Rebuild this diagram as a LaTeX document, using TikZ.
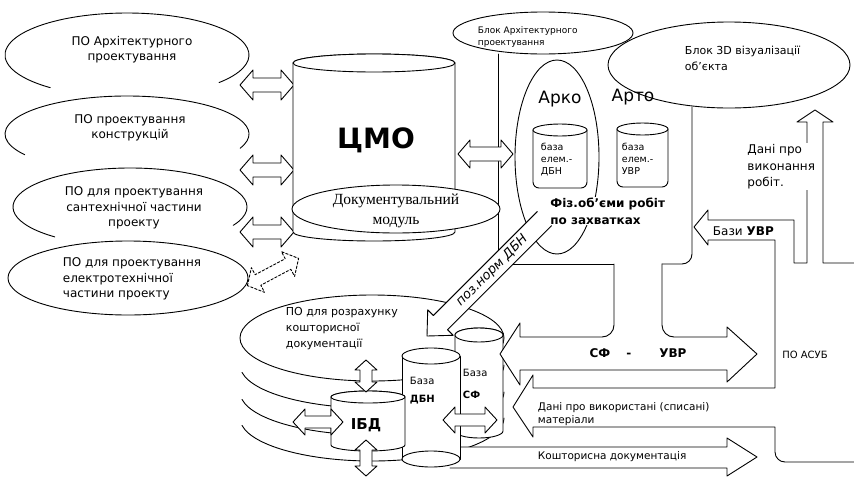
\documentclass[tikz,border=0pt]{standalone}
\usepackage{fontspec}
\setmainfont{DejaVu Sans}
\newfontfamily\serifru{Liberation Serif}
\newcommand{\hdbl}[7][]{\path[shp,#1] (#2,#4) -- ({#2+#7},{#4-#6}) -- ({#2+#7},{#4-#5}) -- ({#3-#7},{#4-#5}) -- ({#3-#7},{#4-#6}) -- (#3,#4) -- ({#3-#7},{#4+#6}) -- ({#3-#7},{#4+#5}) -- ({#2+#7},{#4+#5}) -- ({#2+#7},{#4+#6}) -- cycle;}
\newcommand{\vdbl}[7][]{\path[shp,#1] (#4,#2) -- ({#4-#6},{#2+#7}) -- ({#4-#5},{#2+#7}) -- ({#4-#5},{#3-#7}) -- ({#4-#6},{#3-#7}) -- (#4,#3) -- ({#4+#6},{#3-#7}) -- ({#4+#5},{#3-#7}) -- ({#4+#5},{#2+#7}) -- ({#4+#6},{#2+#7}) -- cycle;}
\newcommand{\cylbody}[5]{\path[shp] ({#1-#3},#2) -- ({#1-#3},#5) arc[start angle=180, end angle=360, x radius=#3pt, y radius=#4pt] -- ({#1+#3},#2) arc[start angle=0, end angle=180, x radius=#3pt, y radius=#4pt] -- cycle;
\path[shp] (#1,#2) ellipse[x radius=#3pt, y radius=#4pt];}
\begin{document}
\begin{tikzpicture}[x=1pt, y=-1pt, line width=0.9pt, line join=round, line cap=round,
  shp/.style={draw, fill=white},
  every node/.style={inner sep=0.5pt}]
\useasboundingbox[fill=white] (0,0) rectangle (854,477);

% background connector lines
\draw (498,54) -- (498,264) -- (614,264);
\draw (662,264) -- (682,264) arc[start angle=-90, end angle=0, radius=10pt] -- (692,107);

% left ellipses (open bottoms)
\draw (127,55) ++(-41:122pt and 42pt) arc[start angle=-41, end angle=231, x radius=122pt, y radius=42pt];
\draw (127,134) ++(-22:122pt and 38pt) arc[start angle=-22, end angle=213, x radius=122pt, y radius=38pt];
\draw (130,207) ++(-28:117pt and 39pt) arc[start angle=-28, end angle=230, x radius=117pt, y radius=39pt];
\draw (128,278) ellipse[x radius=120pt, y radius=37pt];

\node[font=\fontsize{12}{15}\selectfont, align=center] (t1) at (132,50) {ПО Архітектурного\\проектування};
\node[font=\fontsize{12}{15}\selectfont, align=center] (t2) at (130,128) {ПО проектування\\конструкцій};
\node[font=\fontsize{12}{15.5}\selectfont, align=center] (t3) at (134,208) {ПО для проектування\\сантехнічної частини\\проекту};
\node[font=\fontsize{12}{15.5}\selectfont, align=left, anchor=west] (t4) at (62,279) {ПО для проектування\\електротехнічної\\частини проекту};

% left double arrows
\hdbl{240}{294}{85}{7}{15}{13}
\hdbl{240}{294}{170}{7}{15}{13}
\hdbl{240}{294}{232}{7}{15}{13}
\begin{scope}[shift={(273,272)}, rotate=28]
\hdbl[dash pattern=on 2.5pt off 1.8pt]{-29}{29}{0}{6}{14}{12}
\end{scope}

% CMO cylinder
\cylbody{374}{63}{81}{9}{232}
\node[font=\bfseries\fontsize{28}{30}\selectfont] (cmo) at (376,140) {ЦМО};
\path[shp] (396,209) ellipse[x radius=104pt, y radius=24pt];
\node[font=\serifru\fontsize{15.5}{20}\selectfont, align=center] (dok) at (396,211) {Документувальний\\модуль};

% arrow CMO <-> Arko
\hdbl{458}{513}{154}{7}{14}{12}

% top blocks
\draw (543,33) ellipse[x radius=90pt, y radius=21pt];
\draw (729,65) ellipse[x radius=121pt, y radius=43pt];
\node[font=\fontsize{9}{12}\selectfont, align=left, anchor=west] (barh) at (477,37) {Блок Архітектурного\\проектування};
\node[font=\fontsize{11}{16}\selectfont, align=left, anchor=west] (b3d) at (684,58) {Блок 3D візуалізації\\об'єкта};

% Arko ellipse, Arko/Arto
\draw (557,157) ellipse[x radius=42pt, y radius=97pt];
\node[font=\fontsize{17}{20}\selectfont] (arko) at (560,99) {Арко};
\node[font=\fontsize{17}{20}\selectfont] (arto) at (633,97) {Арто};
\path[shp, rounded corners=6pt] (533,130) -- (533,188) -- (587,188) -- (587,130);
\path[shp] (560,130) ellipse[x radius=27pt, y radius=6pt];
\path[shp, rounded corners=6pt] (617,129) -- (617,187) -- (668,187) -- (668,129);
\path[shp] (642.5,129) ellipse[x radius=25.5pt, y radius=6pt];
\node[font=\fontsize{9.5}{12}\selectfont, align=left, anchor=west] (bdbn) at (540,160) {база\\елем.-\\ДБН};
\node[font=\fontsize{9.5}{12}\selectfont, align=left, anchor=west] (buvre) at (621,159) {база\\елем.-\\УВР};

% PO rozrakhunku stack
\foreach \cy in {365,392,418} {
  \draw (372,\cy) ++(190:132pt and 43pt) arc[start angle=190, end angle=360, x radius=132pt, y radius=43pt];
}
\path[shp] (372,338) ellipse[x radius=132pt, y radius=43pt];
\node[font=\fontsize{11}{16}\selectfont, align=left, anchor=west] (porr) at (285,329) {ПО для розрахунку\\кошторисної\\документації};

% Koshtorysna arrow
\path[shp] (450,468) -- (727,468) -- (727,476) -- (757,457) -- (727,438) -- (727,447) -- (450,447);

% right side: up arrow, Bazy UVR, ASUB box, Dani pro vykorystani
\draw (854,263) -- (823,263) -- (823,122) -- (833,122) -- (815,110) -- (797,122) -- (807,122) -- (807,263) -- (794,263) -- (794,220) -- (708,220) -- (708,210) -- (694,227) -- (708,245) -- (708,240) -- (775,240) -- (775,388) -- (533,388) -- (533,375) -- (513,407) -- (533,437) -- (533,427) -- (775,427) -- (775,452) arc[start angle=180, end angle=270, radius=10pt] -- (854,462);

% bottom cylinders
\cylbody{479}{335}{24}{7}{431}
\path[shp] (402,356) -- (402,459) -- (460,459) -- (460,356) -- cycle;
\path[shp] (431,459) ellipse[x radius=29pt, y radius=8pt];
\path[shp] (431,356) ellipse[x radius=29pt, y radius=8pt];
\cylbody{368}{397}{37}{6}{445}

% SF - UVR arrow with channel
\path[shp] (614,264) -- (614,325) arc[start angle=0, end angle=-90, radius=12pt] -- (520,337) -- (520,323) -- (500,354) -- (520,385) -- (520,370) -- (727,370) -- (727,382) -- (757,354) -- (727,327) -- (727,337) -- (674,337) arc[start angle=-90, end angle=-180, radius=12pt] -- (662,264);

% diagonal arrow poz.norm DBN
\begin{scope}[shift={(427,336)}, rotate=45]
\path[shp] (166,-10) -- (19,-10) -- (19,-18) -- (0,0) -- (19,18) -- (19,10) -- (166,10);
\node[rotate=45, font=\itshape\fontsize{13}{13}\selectfont] (poz) at (92,0) {поз.норм ДБН};
\end{scope}

% bottom double arrows
\vdbl{360}{392}{366}{6}{11}{10}
\vdbl{440}{476}{366}{6}{11}{10}
\hdbl{293}{343}{422}{6}{13}{12}
\hdbl{443}{497}{420}{6}{13}{12}

% bottom texts
\node[font=\bfseries\fontsize{15}{18}\selectfont] (ibd) at (366,425) {ІБД};
\node[font=\fontsize{10}{18}\selectfont, align=left, anchor=west] (bazdbn) at (409,391) {База\\\textbf{ДБН}};
\node[font=\fontsize{10}{22}\selectfont, align=left, anchor=west] (bazsf) at (462,384) {База\\\textbf{СФ}};

% middle/right texts
\node[font=\bfseries\fontsize{12}{17}\selectfont, align=left, anchor=west, fill=white, inner sep=1pt] (fiz) at (549,211) {Фіз.об'єми робіт\\по захватках};
\node[font=\fontsize{12}{16.5}\selectfont, align=left, anchor=north west, fill=white, inner sep=1pt] (dv) at (746,143) {Дані про\\виконання\\робіт.};
\node[font=\fontsize{12}{14}\selectfont, anchor=west] (buvr) at (712,231) {Бази\hspace{4pt}\textbf{УВР}};
\node[font=\bfseries\fontsize{12}{14}\selectfont] (sfuvr) at (638,353) {СФ\hspace{16pt}-\hspace{28pt}УВР};
\node[font=\fontsize{10}{12}\selectfont] (asub) at (805,355) {ПО АСУБ};
\node[font=\fontsize{10.5}{13}\selectfont, align=left, anchor=west] (dvm) at (537,414) {Дані про використані (списані)\\матеріали};
\node[font=\fontsize{10.5}{13}\selectfont, anchor=west] (kosh) at (537,457) {Кошторисна документація};
\end{tikzpicture}
\end{document}
